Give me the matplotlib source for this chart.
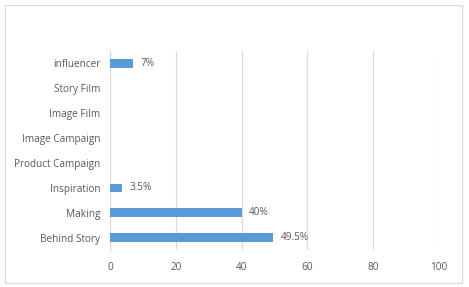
import matplotlib
matplotlib.use('Agg')
import matplotlib.pyplot as plt
from matplotlib.patches import Rectangle

# data
categories = ['Behind Story', 'Making', 'Inspiration', 'Product Campaign',
              'Image Campaign', 'Image Film', 'Story Film', 'influencer']
values = [49.5, 40, 3.5, 0, 0, 0, 0, 7]
labels = ['49.5%', '40%', '3.5%', '', '', '', '', '7%']
xticks = [0, 20, 40, 60, 80, 100]

plt.rcParams['font.family'] = ['Open Sans', 'DejaVu Sans']
txt = '#595959'
grid = '#D9D9D9'

fig = plt.figure(figsize=(4.69, 2.87), dpi=100)
fig.patches.append(Rectangle((5/469, 4/287), 457/469, 278/287,
                             transform=fig.transFigure, fill=False,
                             edgecolor=grid, linewidth=0.8))
ax = fig.add_axes([110/469, 37/287, 329/469, 199/287])

ax.barh(range(len(categories)), values, height=0.34, color='#5B9BD5', zorder=3)
for i, (v, l) in enumerate(zip(values, labels)):
    if l:
        ax.text(v + 2.3, i, l, va='center', ha='left', fontsize=7.2, color=txt)

ax.set_xlim(0, 100)
ax.set_ylim(-0.5, len(categories) - 0.5)
ax.set_xticks(xticks)
ax.set_yticks(range(len(categories)))
ax.set_yticklabels(categories)
ax.tick_params(length=0, labelsize=7.2, labelcolor=txt)
ax.tick_params(axis='x', pad=9)
ax.tick_params(axis='y', pad=7)
ax.xaxis.grid(True, color=grid, linewidth=0.8, zorder=0)
for s in ['top', 'right', 'bottom']:
    ax.spines[s].set_visible(False)
ax.spines['left'].set_color(grid)
ax.spines['left'].set_linewidth(0.8)

plt.savefig('out.png', dpi=100)
